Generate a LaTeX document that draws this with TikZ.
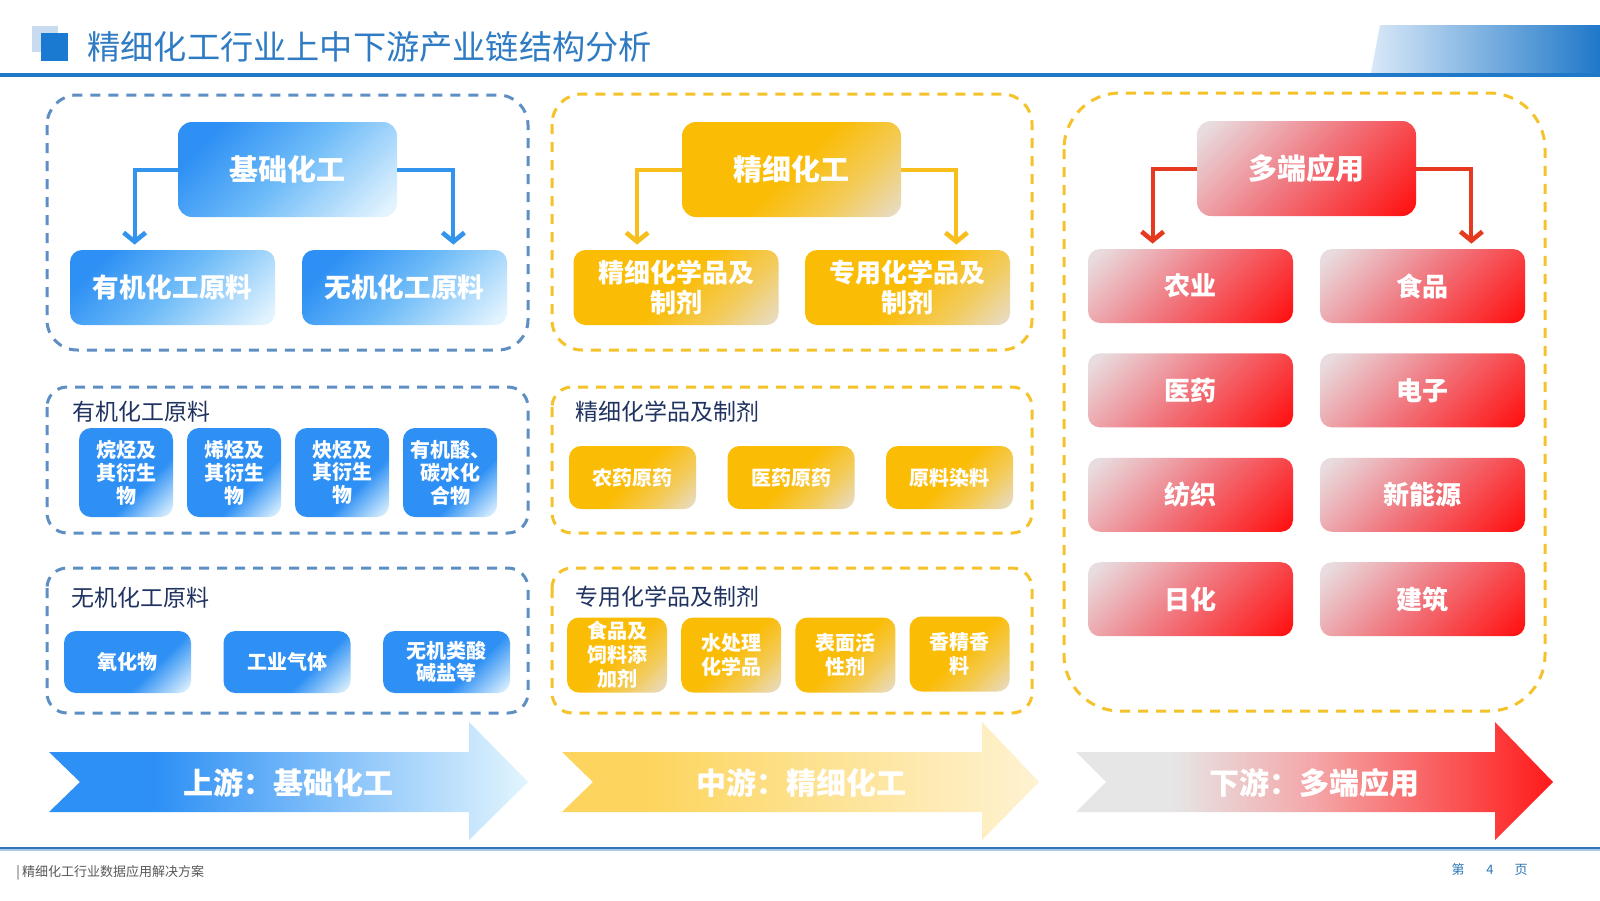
\documentclass[tikz,border=0pt]{standalone}
\usepackage{fontspec}
\setmainfont{Noto Sans CJK SC}
\usetikzlibrary{arrows.meta,positioning}

\definecolor{hdblue}{HTML}{1F78C8}
\definecolor{hdpale}{HTML}{D8E8F8}
\definecolor{titleblue}{HTML}{2F7CC4}
\definecolor{sqlight}{HTML}{C9DBEF}
\definecolor{sqdark}{HTML}{1A7AD2}
\definecolor{bluedeep}{HTML}{2E90F4}
\definecolor{bluemid}{HTML}{6CBAF8}
\definecolor{bluesoft}{HTML}{E3F4FE}
\definecolor{amberdeep}{HTML}{FBBC05}
\definecolor{ambermid}{HTML}{F3CB5A}
\definecolor{ambersoft}{HTML}{E6DED2}
\definecolor{redpale}{HTML}{E8DCDF}
\definecolor{redmid}{HTML}{F07A82}
\definecolor{redhot}{HTML}{FF1010}
\definecolor{dashblue}{HTML}{5E8FC4}
\definecolor{dashamber}{HTML}{F6C22A}
\definecolor{labelnavy}{HTML}{1F3260}
\definecolor{linkblue}{HTML}{3394EE}
\definecolor{linkamber}{HTML}{F8BE1C}
\definecolor{linkred}{HTML}{E6391F}
\definecolor{flowblue}{HTML}{2D90F5}
\definecolor{flowbluesoft}{HTML}{E2F5FE}
\definecolor{flowamber}{HTML}{FDD55E}
\definecolor{flowambersoft}{HTML}{FEF2D2}
\definecolor{flowgray}{HTML}{E6E6E6}
\definecolor{flowpink}{HTML}{F4A6A8}
\definecolor{flowred}{HTML}{FF1A1A}
\definecolor{footgray}{HTML}{595959}
\definecolor{pageblue}{HTML}{2E75B6}
\definecolor{rulelight}{HTML}{A9C9E9}

\pgfdeclarehorizontalshading{bluehead}{100bp}{color(0bp)=(bluedeep); color(25bp)=(bluedeep); color(50bp)=(bluemid); color(82bp)=(bluesoft); color(100bp)=(bluesoft)}
\pgfdeclarehorizontalshading{bluesmall}{100bp}{color(0bp)=(bluedeep); color(62bp)=(bluedeep); color(84bp)=(bluesoft); color(100bp)=(bluesoft)}
\pgfdeclarehorizontalshading{amberhead}{100bp}{color(0bp)=(amberdeep); color(50bp)=(amberdeep); color(68bp)=(ambermid); color(86bp)=(ambersoft); color(100bp)=(ambersoft)}
\pgfdeclarehorizontalshading{redhead}{100bp}{color(0bp)=(redpale); color(18bp)=(redpale); color(48bp)=(redmid); color(84bp)=(redhot); color(100bp)=(redhot)}
\pgfdeclarehorizontalshading{flowbluegrad}{100bp}{color(0bp)=(flowblue); color(36bp)=(flowblue); color(75bp)=(flowbluesoft); color(100bp)=(flowbluesoft)}
\pgfdeclarehorizontalshading{flowambergrad}{100bp}{color(0bp)=(flowamber); color(34bp)=(flowamber); color(75bp)=(flowambersoft); color(100bp)=(flowambersoft)}
\pgfdeclarehorizontalshading{flowredgrad}{100bp}{color(0bp)=(flowgray); color(35bp)=(flowgray); color(50bp)=(flowpink); color(75bp)=(flowred); color(100bp)=(flowred)}

\begin{document}
\begin{tikzpicture}[x=0.5pt, y=-0.5pt]
    % Styles
    \tikzstyle{headblue} = [rectangle, shade, shading=bluehead, shading angle=-45,
        rounded corners=7pt, minimum width=109.5pt, minimum height=47.5pt, inner sep=0pt,
        text=white, font=\bfseries\fontsize{14.5}{16}\selectfont]
    \tikzstyle{subblue} = [rectangle, shade, shading=bluehead, shading angle=-45,
        rounded corners=6pt, minimum width=102.5pt, minimum height=37.5pt, inner sep=0pt,
        text=white, font=\bfseries\fontsize{13.3}{15}\selectfont, node distance=116pt]
    \tikzstyle{orgnode} = [rectangle, shade, shading=bluesmall, shading angle=-45,
        rounded corners=6pt, minimum width=47pt, minimum height=44.5pt, inner sep=0pt,
        align=center, text=white, font=\bfseries\fontsize{10}{11.5}\selectfont, node distance=54pt]
    \tikzstyle{inorgnode} = [orgnode, minimum width=63.5pt, minimum height=31pt,
        font=\bfseries\fontsize{10}{11}\selectfont, node distance=79.75pt]
    \tikzstyle{headamber} = [headblue, shading=amberhead]
    \tikzstyle{subamber} = [subblue, shading=amberhead, align=center,
        font=\bfseries\fontsize{13}{15}\selectfont, node distance=115.75pt]
    \tikzstyle{finenode} = [orgnode, shading=amberhead, minimum width=63.5pt, minimum height=31.5pt,
        font=\bfseries\fontsize{10}{11}\selectfont, node distance=79.25pt]
    \tikzstyle{specnode} = [orgnode, shading=amberhead, minimum width=50pt, minimum height=37.5pt,
        font=\bfseries\fontsize{10}{12}\selectfont, node distance=57.1pt]
    \tikzstyle{headred} = [headblue, shading=redhead]
    \tikzstyle{usenode} = [subblue, shading=redhead, minimum height=37pt,
        font=\bfseries\fontsize{13}{15}\selectfont, node distance=52.2pt]
    \tikzstyle{grouplabel} = [anchor=west, inner sep=0pt, text=labelnavy,
        font=\fontsize{11.5}{13}\selectfont]
    \tikzstyle{bluefence} = [draw=dashblue, line width=1.5pt, dash pattern=on 5pt off 4pt]
    \tikzstyle{amberfence} = [bluefence, draw=dashamber]
    \tikzstyle{bluelink} = [draw=linkblue, line width=2pt, -{Straight Barb[length=4.5pt,width=11pt,line width=2.3pt]}, shorten >=2.5pt]
    \tikzstyle{amberlink} = [bluelink, draw=linkamber]
    \tikzstyle{redlink} = [bluelink, draw=linkred]
    \tikzstyle{flowtext} = [inner sep=0pt, text=white, font=\bfseries\fontsize{15}{17}\selectfont]
    \tikzstyle{foottext} = [inner sep=0pt, font=\fontsize{6.5}{8}\selectfont]

    \fill[white] (0,0) rectangle (1600,900);
    \useasboundingbox (0,0) rectangle (1600,900);

    % === HEADER ===
    \fill[sqlight] (32,26) rectangle (58,52);
    \fill[sqdark] (41,33) rectangle (68,61);
    \node [anchor=west, inner sep=0pt, text=titleblue, font=\fontsize{16.6}{19}\selectfont]
        (title) at (87,47) {精细化工行业上中下游产业链结构分析};
    \shade[left color=hdpale, right color=hdblue] (1371,73) -- (1380,25) -- (1600,25) -- (1600,73) -- cycle;
    \draw[hdblue, line width=2pt] (0,75) -- (1600,75);

    % === UPSTREAM: Basic Chemicals ===
    \draw[bluefence, rounded corners=15pt] (47,95) rectangle (528,350);
    \draw[bluefence, rounded corners=10pt] (47,387) rectangle (528,533);
    \draw[bluefence, rounded corners=10pt] (47,568) rectangle (528,713);

    \node [headblue] (base) at (287.5,169.5) {基础化工};
    \node [subblue] (orgraw) at (172.5,287.5) {有机化工原料};
    \node [subblue, right of=orgraw] (inorgraw) {无机化工原料};
    \draw [bluelink] (base.west) -| ([xshift=32.5pt]orgraw.north west);
    \draw [bluelink] (base.east) -| ([xshift=-27pt]inorgraw.north east);

    \node [grouplabel] (orglabel) at (72,412) {有机化工原料};
    \node [orgnode] (alkane) at (126,472.5) {烷烃及\\其衍生\\物};
    \node [orgnode, right of=alkane] (alkene) {烯烃及\\其衍生\\物};
    \node [orgnode, right of=alkene] (alkyne) {炔烃及\\其衍生\\物};
    \node [orgnode, right of=alkyne] (acid) {有机酸、\\碳水化\\合物};

    \node [grouplabel] (inorglabel) at (71,598) {无机化工原料};
    \node [inorgnode] (oxide) at (127.5,662) {氧化物};
    \node [inorgnode, right of=oxide] (gas) {工业气体};
    \node [inorgnode, right of=gas] (salt) {无机类酸\\碱盐等};

    % === MIDSTREAM: Fine Chemicals ===
    \draw[amberfence, rounded corners=15pt] (552,94) rectangle (1032,350);
    \draw[amberfence, rounded corners=10pt] (552,387) rectangle (1032,533);
    \draw[amberfence, rounded corners=10pt] (552,568) rectangle (1032,713);

    \node [headamber] (fine) at (791.5,169.5) {精细化工};
    \node [subamber] (finechem) at (676,287.5) {精细化学品及\\制剂};
    \node [subamber, right of=finechem] (specchem) {专用化学品及\\制剂};
    \draw [amberlink] (fine.west) -| ([xshift=32pt]finechem.north west);
    \draw [amberlink] (fine.east) -| ([xshift=-27pt]specchem.north east);

    \node [grouplabel] (finelabel) at (575,412) {精细化学品及制剂};
    \node [finenode] (pesticide) at (632.5,477.5) {农药原药};
    \node [finenode, right of=pesticide] (pharma) {医药原药};
    \node [finenode, right of=pharma] (dye) {原料染料};

    \node [grouplabel] (speclabel) at (575,597) {专用化学品及制剂};
    \node [specnode] (additive) at (617,655) {食品及\\饲料添\\加剂};
    \node [specnode, right of=additive] (water) {水处理\\化学品};
    \node [specnode, right of=water] (surfact) {表面活\\性剂};
    \node [specnode, right of=surfact, yshift=0.5pt] (flavor) {香精香\\料};

    % === DOWNSTREAM: Applications ===
    \draw[amberfence, rounded corners=28pt] (1064,93) rectangle (1545,711);

    \node [headred] (multi) at (1306.5,168.5) {多端应用};
    \node [usenode] (agri) at (1190.5,286) {农业};
    \node [usenode, below of=agri] (medic) {医药};
    \node [usenode, below of=medic] (textile) {纺织};
    \node [usenode, below of=textile] (daily) {日化};
    \node [usenode, node distance=116pt, right of=agri] (food) {食品};
    \node [usenode, below of=food] (elec) {电子};
    \node [usenode, below of=elec] (energy) {新能源};
    \node [usenode, below of=energy] (build) {建筑};
    \draw [redlink] (multi.west) -| ([xshift=32.5pt]agri.north west);
    \draw [redlink] (multi.east) -| ([xshift=-27pt]food.north east);

    % === FLOW ARROWS ===
    \shade[shading=flowbluegrad] (49,752) -- (469,752) -- (469,722) -- (528,782) -- (469,840)
        -- (469,812) -- (49,812) -- (80,782) -- cycle;
    \shade[shading=flowambergrad] (562,752) -- (982,752) -- (982,722) -- (1039,782) -- (982,840)
        -- (982,812) -- (562,812) -- (593,782) -- cycle;
    \shade[shading=flowredgrad] (1076,752) -- (1495,752) -- (1495,722) -- (1553,782) -- (1495,840)
        -- (1495,812) -- (1076,812) -- (1106,782) -- cycle;
    \node [flowtext] (upflow) at (288,783) {上游：基础化工};
    \node [flowtext] (midflow) at (801,783) {中游：精细化工};
    \node [flowtext] (downflow) at (1314,783) {下游：多端应用};

    % === FOOTER ===
    \draw[pageblue, line width=1pt] (0,847.5) -- (1600,847.5);
    \draw[rulelight, line width=0.8pt] (0,849.8) -- (1600,849.8);
    \node [foottext, anchor=west, text=footgray] (deck) at (16,873) {|\,精细化工行业数据应用解决方案};
    \node [foottext, text=pageblue] (pgword) at (1458,870) {第};
    \node [foottext, text=pageblue] (pgnum) at (1490,870) {4};
    \node [foottext, text=pageblue] (pgunit) at (1521,870) {页};
\end{tikzpicture}
\end{document}
